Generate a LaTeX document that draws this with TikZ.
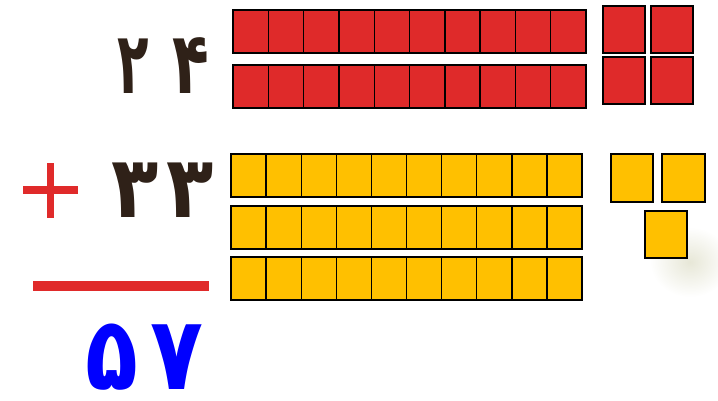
\documentclass[tikz,border=0pt]{standalone}
\usepackage{graphicx}
\usepackage{fontspec}
\newfontfamily\fadigits[Script=Arabic]{DejaVu Sans}
\definecolor{cellred}{HTML}{DF2A2A}
\definecolor{cellyellow}{HTML}{FFC000}
\definecolor{digitbrown}{HTML}{2F2118}
\definecolor{signred}{HTML}{E02A2A}
\definecolor{sumblue}{HTML}{0000FF}
\newcommand{\narrowdigit}[2]{\scalebox{#1}[1]{#2}}
\newcommand{\sumdigit}[1]{\scalebox{0.85}[1]{#1}}
\tikzset{
  redcell/.style={draw=black, line width=1.4pt, fill=cellred},
  yellowcell/.style={draw=black, line width=1.4pt, fill=cellyellow},
  digitlabel/.style={inner sep=0pt, font=\fadigits\bfseries\fontsize{86}{88}\selectfont, text=digitbrown},
  sumlabel/.style={inner sep=0pt, font=\fadigits\bfseries\fontsize{102}{104}\selectfont, text=sumblue},
}
\begin{document}
\begin{tikzpicture}[x=1pt,y=-1pt]
\useasboundingbox (0,0) rectangle (718,400);
% faint blob
\shade[inner color=yellow!25!gray!25, outer color=white] (690,262) ellipse (40 and 35);
% red tens rows
\foreach \r/\top in {1/10, 2/65} {
  \foreach \c in {0,...,9} {
    \draw[redcell] ({233+35.3*\c},\top) rectangle ({233+35.3*(\c+1)},{\top+43});
  }
}
% red units
\draw[redcell] (603,6) rectangle (645,53);
\draw[redcell] (651,6) rectangle (693,53);
\draw[redcell] (603,57) rectangle (645,104);
\draw[redcell] (651,57) rectangle (693,104);
% yellow tens rows
\foreach \r/\top in {1/154, 2/206, 3/257} {
  \foreach \c in {0,...,9} {
    \draw[yellowcell] ({231+35.1*\c},\top) rectangle ({231+35.1*(\c+1)},{\top+43});
  }
}
% yellow units
\draw[yellowcell] (611,154) rectangle (653,202);
\draw[yellowcell] (662,154) rectangle (705,202);
\draw[yellowcell] (645,211) rectangle (687,258);
% numbers
\node[digitlabel, anchor=base] (a1) at (133,93) {\narrowdigit{0.6}{۲}};
\node[digitlabel, anchor=base] (a2) at (191,93) {\narrowdigit{0.7}{۴}};
\node[digitlabel, anchor=base] (b1) at (135,217) {\narrowdigit{0.9}{۳}};
\node[digitlabel, anchor=base] (b2) at (190,217) {\narrowdigit{0.9}{۳}};
\node[sumlabel, anchor=base] (s1) at (112,389) {\sumdigit{۵}};
\node[sumlabel, anchor=base] (s2) at (177,389) {\sumdigit{۷}};
% plus sign
\draw[signred, line width=7.5pt] (23,190) -- (78,190);
\draw[signred, line width=7.5pt] (50.5,163) -- (50.5,218);
% sum line
\draw[signred, line width=10pt] (33,285.5) -- (209,285.5);
\end{tikzpicture}
\end{document}
